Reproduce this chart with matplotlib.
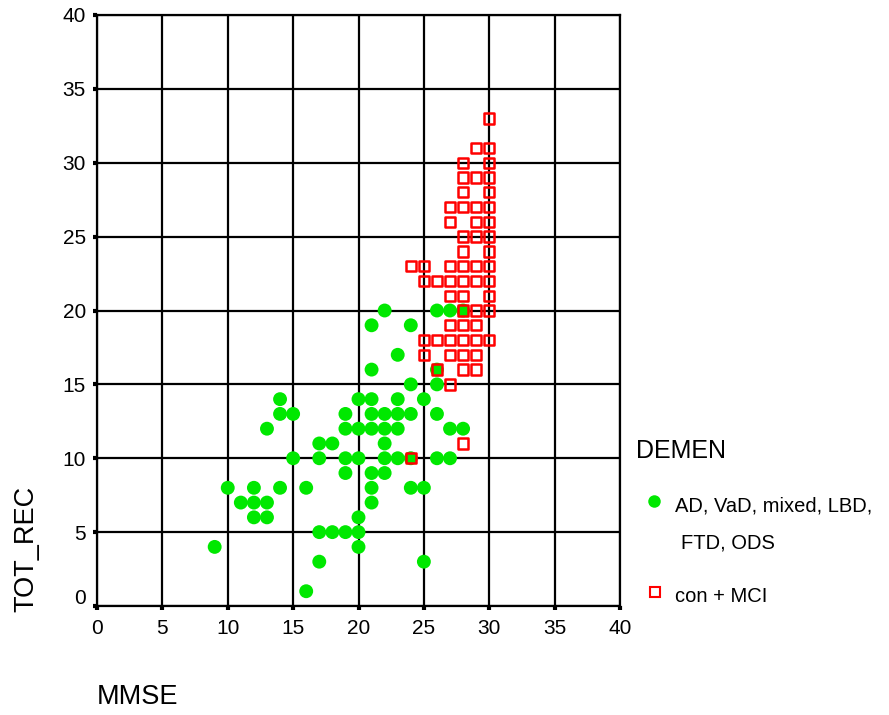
import matplotlib

matplotlib.use("Agg")
import matplotlib.pyplot as plt
from matplotlib.lines import Line2D
from matplotlib.transforms import ScaledTranslation

plt.rcParams["font.family"] = ["Liberation Sans", "DejaVu Sans"]

# dementia group (AD, VaD, mixed, LBD, FTD, ODS)
dem_mmse = [9, 10, 11, 12, 12, 12, 13, 13, 13, 14, 14, 14, 15, 15, 16, 16,
            17, 17, 17, 17, 18, 18, 19, 19, 19, 19, 19,
            20, 20, 20, 20, 20, 20,
            21, 21, 21, 21, 21, 21, 21, 21,
            22, 22, 22, 22, 22, 22,
            23, 23, 23, 23, 23,
            24, 24, 24, 24, 24,
            25, 25, 25,
            26, 26, 26, 26, 26,
            27, 27, 27, 28, 28]
dem_rec = [4, 8, 7, 8, 7, 6, 7, 6, 12, 14, 13, 8, 13, 10, 8, 1,
           11, 10, 5, 3, 11, 5, 13, 12, 10, 9, 5,
           14, 12, 10, 6, 5, 4,
           19, 16, 14, 13, 12, 9, 8, 7,
           20, 13, 12, 11, 10, 9,
           17, 14, 13, 12, 10,
           19, 15, 13, 10, 8,
           14, 8, 3,
           20, 16, 15, 13, 10,
           20, 12, 10, 20, 12]

# controls + MCI
con_mmse = [30, 29, 30, 28, 30, 28, 29, 30, 28, 30,
            27, 28, 29, 30, 27, 29, 30, 28, 29, 30, 28, 30,
            24, 25, 27, 28, 29, 30, 25, 26, 27, 28, 29, 30,
            27, 28, 30, 28, 29, 30, 27, 28, 29,
            25, 26, 27, 28, 29, 30, 25, 27, 28, 29,
            26, 28, 29, 27, 28, 24]
con_rec = [33, 31, 31, 30, 30, 29, 29, 29, 28, 28,
           27, 27, 27, 27, 26, 26, 26, 25, 25, 25, 24, 24,
           23, 23, 23, 23, 23, 23, 22, 22, 22, 22, 22, 22,
           21, 21, 21, 20, 20, 20, 19, 19, 19,
           18, 18, 18, 18, 18, 18, 17, 17, 17, 17,
           16, 16, 16, 15, 11, 10]

ticks = [0, 5, 10, 15, 20, 25, 30, 35, 40]
green = "#00e800"
red = "#ff0000"

fig = plt.figure(figsize=(8.89, 7.15), dpi=100)
ax = fig.add_axes([97 / 889, 1 - 606 / 715, 523 / 889, 591 / 715])

ax.scatter(dem_mmse, dem_rec, s=100, marker="o", color=green, edgecolors="none",
           zorder=3, clip_on=False)
ax.scatter(con_mmse, con_rec, s=55, marker="s", facecolors="none",
           edgecolors=red, linewidths=1.8, zorder=4, clip_on=False)

ax.set_xlim(0, 40)
ax.set_ylim(0, 40)
ax.set_xticks(ticks)
ax.set_yticks(ticks)
ax.grid(True, color="black", linewidth=1.6)
ax.set_axisbelow(True)
for side in ax.spines.values():
    side.set_linewidth(1.6)
ax.tick_params(direction="out", length=3, width=3, labelsize=15, pad=5)
ax.tick_params(axis="x", pad=6)

# lift the "0" on the y axis, as in the original
lab0 = ax.get_yticklabels()[0]
lab0.set_transform(lab0.get_transform() + ScaledTranslation(0, 0.1, fig.dpi_scale_trans))

fig.text(26 / 889, 1 - 612 / 715, "TOT_REC", rotation=90, fontsize=19.5,
         ha="center", va="bottom")
fig.text(97 / 889, 1 - 697 / 715, "MMSE", fontsize=19.5, ha="left", va="center")

# legend
fig.text(636 / 889, 1 - 451 / 715, "DEMEN", fontsize=18, ha="left", va="center")
fig.add_artist(Line2D([654 / 889], [1 - 501 / 715], marker="o", markersize=9,
                      color=green, markeredgecolor="none", transform=fig.transFigure))
fig.text(675 / 889, 1 - 506 / 715, "AD, VaD, mixed, LBD,", fontsize=14.5,
         ha="left", va="center")
fig.text(681 / 889, 1 - 543 / 715, "FTD, ODS", fontsize=14.5, ha="left", va="center")
fig.add_artist(Line2D([655 / 889], [1 - 592 / 715], marker="s", markersize=6.5,
                      markerfacecolor="none", markeredgecolor=red, markeredgewidth=1.5,
                      transform=fig.transFigure))
fig.text(675 / 889, 1 - 596 / 715, "con + MCI", fontsize=14.5, ha="left", va="center")

fig.savefig("out.png", dpi=100)
